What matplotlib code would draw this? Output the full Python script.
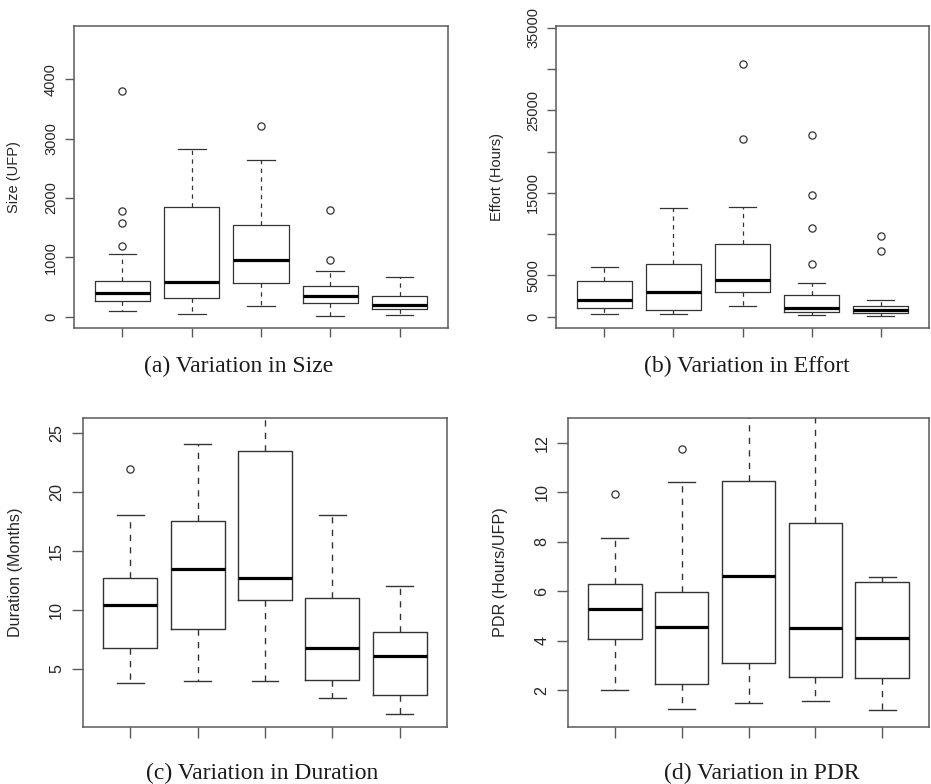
import matplotlib
matplotlib.use("Agg")
import matplotlib.pyplot as plt

W, H = 931, 784

# ---- data: five groups per measure ----
groups = [1, 2, 3, 4, 5]

size_q1 = [264, 309, 568, 231, 124]
size_med = [394, 585, 962, 354, 203]
size_q3 = [596, 1857, 1542, 518, 349]
size_lo = [101, 51, 174, 11, 34]
size_hi = [1058, 2819, 2633, 765, 670]
size_out = [[1187, 1587, 1783, 3809], [], [3207], [956, 1795], []]
size_ticks = [0, 1000, 2000, 3000, 4000]
size_ticklabels = ["0", "1000", "2000", "3000", "4000"]

effort_q1 = [1091, 808, 2991, 566, 485]
effort_med = [2021, 2951, 4487, 1051, 768]
effort_q3 = [4325, 6346, 8811, 2587, 1293]
effort_lo = [364, 323, 1293, 162, 121]
effort_hi = [5982, 13217, 13339, 4123, 2061]
effort_out = [[], [], [21463, 30638], [6427, 10711, 14794, 21988], [7963, 9741]]
effort_ticks = [0, 5000, 10000, 15000, 20000, 25000, 30000, 35000]
effort_ticklabels = ["0", "5000", "", "15000", "", "25000", "", "35000"]

dur_q1 = [6.78, 8.34, 10.81, 4.04, 2.76]
dur_med = [10.41, 13.44, 12.68, 6.78, 6.05]
dur_q3 = [12.71, 17.58, 23.47, 11.0, 8.09]
dur_lo = [3.78, 3.95, 3.95, 2.48, 1.15]
dur_hi = [18.09, 24.09, 30.0, 18.06, 12.0]
dur_out = [[22.0], [], [], [], []]
dur_ticks = [5, 10, 15, 20, 25]
dur_ticklabels = ["5", "10", "15", "20", "25"]

pdr_q1 = [4.09, 2.26, 3.10, 2.54, 2.48]
pdr_med = [5.27, 4.54, 6.62, 4.52, 4.11]
pdr_q3 = [6.29, 5.97, 10.45, 8.76, 6.37]
pdr_lo = [2.03, 1.23, 1.50, 1.57, 1.22]
pdr_hi = [8.15, 10.40, 15.0, 15.0, 6.59]
pdr_out = [[9.93], [11.74], [], [], []]
pdr_ticks = [2, 4, 6, 8, 10, 12]
pdr_ticklabels = ["2", "4", "6", "8", "10", "12"]

BOX_C = "#333333"
FRAME_C = "#5a5a5a"
TEXT_C = "#262626"

fig = plt.figure(figsize=(W / 100, H / 100), dpi=100)
fig.patch.set_facecolor("white")


def add_axes_px(left, top, right, bottom):
    return fig.add_axes([left / W, 1 - bottom / H, (right - left) / W, (bottom - top) / H])


def panel(rect, q1, med, q3, lo, hi, out, ticks, ticklabels, ylim,
          ylabel, ylab_x, caption, cap_xy, fs, ticklen, pad, dash, lw):
    ax = add_axes_px(*rect)
    stats = []
    for i in range(len(groups)):
        stats.append(dict(med=med[i], q1=q1[i], q3=q3[i],
                          whislo=lo[i], whishi=hi[i], fliers=out[i]))
    ax.bxp(stats, positions=groups, widths=0.8, capwidths=0.4,
           boxprops=dict(color=BOX_C, linewidth=lw),
           medianprops=dict(color="black", linewidth=2.3, solid_capstyle="butt"),
           whiskerprops=dict(color=BOX_C, linewidth=lw, linestyle=(0, dash)),
           capprops=dict(color=BOX_C, linewidth=lw),
           flierprops=dict(marker="o", markerfacecolor="none",
                           markeredgecolor=BOX_C, markersize=5.2,
                           markeredgewidth=0.9))
    ax.set_xlim(0.3, 5.7)
    ax.set_ylim(*ylim)
    ax.set_xticks(groups)
    ax.set_xticklabels([""] * len(groups))
    ax.set_yticks(ticks)
    ax.set_yticklabels(ticklabels, rotation=90, va="center",
                       family="Liberation Sans", fontsize=fs, color=TEXT_C)
    ax.tick_params(axis="both", direction="out", length=ticklen,
                   width=1.0, color=FRAME_C)
    ax.tick_params(axis="y", pad=pad)
    for s in ax.spines.values():
        s.set_color(FRAME_C)
        s.set_linewidth(1.1)
    cy = (rect[1] + rect[3]) / 2
    fig.text(ylab_x / W, 1 - cy / H, ylabel, rotation=90, ha="center",
             va="center", family="Liberation Sans", fontsize=fs, color=TEXT_C)
    fig.text(cap_xy[0] / W, 1 - cap_xy[1] / H, caption, ha="center",
             va="center", family="Liberation Serif", fontsize=17, color="#1a1a1a")
    return ax


panel((74, 26, 448, 328), size_q1, size_med, size_q3, size_lo, size_hi,
      size_out, size_ticks, size_ticklabels, (-191, 4900),
      "Size (UFP)", 14, "(a) Variation in Size", (239, 366),
      10.5, 6.5, 5, (3.5, 3.5), 0.9)

panel((556, 26, 929, 328), effort_q1, effort_med, effort_q3, effort_lo,
      effort_hi, effort_out, effort_ticks, effort_ticklabels, (-1374, 35206),
      "Effort (Hours)", 497, "(b) Variation in Effort", (747, 366),
      10.5, 6.5, 5, (3.5, 3.5), 0.9)

panel((83, 418, 447, 727), dur_q1, dur_med, dur_q3, dur_lo, dur_hi,
      dur_out, dur_ticks, dur_ticklabels, (0.04, 26.3),
      "Duration (Months)", 16, "(c) Variation in Duration", (262, 773),
      11.6, 8, 5.5, (4.5, 4.5), 1.0)

panel((568, 418, 929, 727), pdr_q1, pdr_med, pdr_q3, pdr_lo, pdr_hi,
      pdr_out, pdr_ticks, pdr_ticklabels, (0.52, 13.0),
      "PDR (Hours/UFP)", 500, "(d) Variation in PDR", (762, 773),
      11.6, 8, 5.5, (4.5, 4.5), 1.0)

fig.savefig("out.png", dpi=100, facecolor="white")
